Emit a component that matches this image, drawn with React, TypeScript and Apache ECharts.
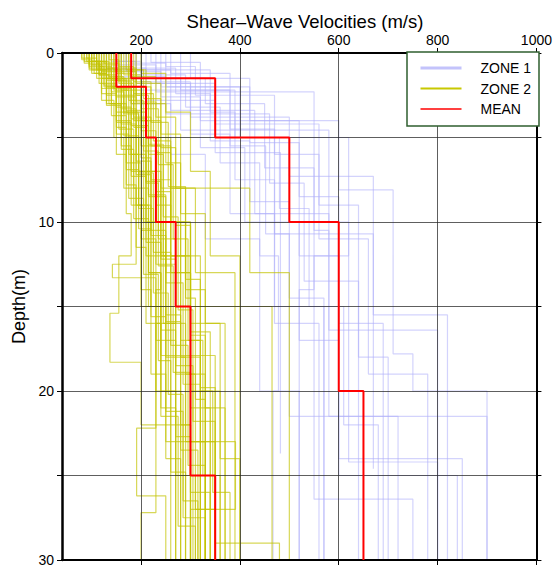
import React, { useEffect, useRef } from "react";
import * as echarts from "echarts";

// Velocity profiles: each entry is [layer top depth (m), Vs (m/s)]; the final entry holds the bottom depth.
const zone1Profiles: number[][][] = [
  [[0, 150], [0.7, 230], [2.3, 550], [10.5, 580], [21.5, 900], [30]],
  [[0, 170], [1.0, 260], [3.4, 430], [9.5, 580], [16.4, 800], [30]],
  [[0, 200], [1.7, 300], [3.8, 500], [7.3, 670], [15.5, 820], [30]],
  [[0, 220], [0.55, 320], [4.0, 600], [8.1, 710], [17.8, 750], [20, 900], [30]],
  [[0, 190], [1.5, 280], [4.56, 580], [10, 620], [24.2, 800], [30]],
  [[0, 240], [2.0, 400], [5.0, 620], [12, 550], [26.4, 750], [30]],
  [[0, 130], [0.9, 210], [2.8, 350], [5.9, 482], [23.7]],
  [[0, 260], [1.2, 380], [4.5, 470], [10.7, 670], [24.6]],
  [[0, 180], [0.6, 250], [2.0, 420], [5.3, 520], [12, 600], [24, 850], [30]],
  [[0, 160], [1.5, 330], [3.0, 450], [6.8, 550], [14, 520], [30]],
  [[0, 210], [1.0, 340], [3.5, 390], [7.5, 470], [15, 570], [30]],
  [[0, 150], [0.5, 200], [2.2, 380], [5.5, 452], [10.7, 500], [21.5, 720], [30]],
  [[0, 230], [1.8, 350], [4.2, 560], [9, 640], [18, 700], [30]],
  [[0, 300], [1.5, 420], [4.0, 520], [8.5, 600], [16, 690], [30]],
  [[0, 120], [1.0, 180], [3.0, 260], [6, 330], [11, 440], [20, 520], [30]],
  [[0, 190], [1.3, 290], [3.2, 360], [6.5, 440], [12, 478], [20, 467], [30]],
  [[0, 250], [0.8, 310], [2.5, 470], [6, 560], [11, 660], [19, 780], [30]],
  [[0, 170], [1.1, 240], [2.6, 320], [5.6, 410], [10, 520], [17, 600], [25, 840], [30]],
  [[0, 140], [0.5, 190], [1.8, 300], [4.8, 380], [9.5, 470], [16, 560], [30]],
  [[0, 280], [2.2, 390], [5, 480], [9.2, 540], [15, 610], [22, 680], [30]],
  [[0, 200], [0.9, 270], [2.4, 340], [5.2, 420], [8.8, 500], [14.5, 570], [30]],
  [[0, 160], [1.4, 250], [3.6, 460], [7.7, 530], [13.5, 640], [30]],
];

const zone2Profiles: number[][][] = [
  [[0, 80], [0.4, 100], [1.2, 130], [2.5, 160], [5, 190], [9, 220], [15, 260], [22, 300], [30]],
  [[0, 85], [0.6, 115], [1.8, 150], [4, 180], [7, 210], [12, 250], [18, 290], [30]],
  [[0, 90], [0.3, 110], [1, 140], [3, 170], [6.5, 200], [11, 230], [17, 270], [25, 310], [30]],
  [[0, 95], [0.8, 125], [2, 155], [4.5, 185], [8, 215], [13, 240], [20, 280], [30]],
  [[0, 100], [1, 130], [3, 150], [6, 170], [9.5, 180], [12, 155], [15.4, 137], [18.3, 200], [22, 260], [30]],
  [[0, 105], [0.5, 135], [1.5, 165], [3.5, 195], [7, 230], [12.5, 270], [19, 310], [27, 350], [30]],
  [[0, 110], [0.9, 145], [2.2, 175], [5, 205], [10, 245], [16, 290], [23, 330], [30]],
  [[0, 115], [1.3, 150], [3.2, 180], [6, 210], [10, 240], [14, 230], [22.2, 191], [26.2, 250], [30]],
  [[0, 120], [1, 160], [2.5, 200], [5.5, 240], [10, 280], [17, 320], [30]],
  [[0, 125], [0.7, 150], [2, 185], [4, 215], [8.5, 250], [13, 300], [21, 340], [30]],
  [[0, 130], [1.5, 170], [3.5, 210], [7, 240], [12, 280], [18, 320], [30]],
  [[0, 135], [0.4, 155], [1.6, 185], [3.8, 220], [7.5, 260], [13, 300], [20, 345], [26, 380], [30]],
  [[0, 140], [2, 190], [5, 230], [9, 260], [15, 300], [23, 350], [30]],
  [[0, 145], [1, 175], [2.8, 205], [5.8, 235], [11, 270], [16, 230], [27.2, 200], [30]],
  [[0, 150], [1.2, 180], [3, 215], [6, 245], [12, 290], [19, 330], [30]],
  [[0, 155], [0.8, 185], [2.4, 225], [5.2, 260], [10, 300], [16, 360], [24, 400], [30]],
  [[0, 160], [1.5, 200], [4, 240], [8, 290], [14, 330], [21, 370], [30]],
  [[0, 170], [1, 210], [3, 250], [6.5, 280], [12, 320], [20, 360], [30]],
  [[0, 175], [2, 220], [5.5, 260], [10, 300], [16.5, 340], [30]],
  [[0, 180], [1.4, 230], [3.8, 270], [8, 310], [13, 390], [30]],
  [[0, 190], [1.8, 240], [4.8, 280], [9.5, 330], [16, 370], [30]],
  [[0, 200], [1.2, 250], [3.5, 300], [7, 340], [12, 400], [30]],
  [[0, 85], [0.5, 120], [1.5, 150], [3.5, 175], [6, 195], [9, 215], [13, 240], [17.9, 350], [30]],
  [[0, 95], [1, 120], [2.8, 145], [5, 165], [8, 190], [12.5, 142], [13.3, 230], [20, 270], [30]],
  [[0, 110], [0.6, 130], [2, 160], [4.2, 190], [7.2, 220], [10.5, 200], [15, 250], [23, 391], [27, 300], [30]],
  [[0, 120], [1.1, 150], [2.6, 190], [5, 260], [8, 420], [13, 500], [30]],
  [[0, 130], [0.9, 160], [2.2, 200], [4.6, 230], [8.2, 260], [12, 300], [15, 465], [30]],
  [[0, 100], [0.7, 125], [1.9, 150], [4.4, 170], [7.8, 190], [11.5, 210], [16, 240], [21, 270], [30]],
  [[0, 90], [0.5, 115], [1.3, 135], [3, 160], [5.5, 180], [9, 200], [14, 220], [19, 250], [24, 280], [30]],
  [[0, 140], [1.6, 170], [3.4, 200], [6.2, 220], [10.5, 250], [15.5, 280], [22, 300], [30]],
  [[0, 150], [1.1, 190], [2.9, 230], [5.9, 260], [10, 290], [14.5, 310], [20.5, 330], [30]],
  [[0, 165], [1.3, 200], [3.3, 235], [6.6, 265], [11, 295], [17, 325], [25, 360], [30]],
  [[0, 115], [0.8, 140], [2.3, 165], [4.9, 195], [9.2, 225], [14.2, 255], [20.2, 285], [26.5, 315], [30]],
  [[0, 105], [1.2, 130], [3.1, 160], [5.7, 185], [9.8, 215], [15, 240], [21.5, 275], [28, 310], [30]],
  [[0, 125], [0.6, 155], [1.7, 180], [3.9, 210], [7.6, 240], [12.2, 270], [18.5, 305], [30]],
  [[0, 135], [1.4, 165], [3.6, 195], [7.1, 225], [11.8, 260], [17.3, 295], [24.4, 330], [30]],
  [[0, 145], [2.1, 180], [4.3, 215], [8.4, 250], [13.6, 285], [19.6, 320], [30]],
  [[0, 80], [0.3, 95], [0.9, 120], [2.1, 150], [4.1, 180], [7.3, 210], [11.2, 240], [16.4, 270], [22.7, 300], [30]],
  [[0, 100], [0.5, 130], [1.6, 160], [3.3, 190], [6.4, 220], [10.8, 250], [15.9, 280], [23.5, 315], [30]],
  [[0, 160], [0.9, 190], [2.5, 215], [5.4, 245], [9.7, 275], [15.2, 305], [21.8, 350], [29, 480], [30]],
  [[0, 185], [1.7, 220], [4.1, 255], [7.9, 290], [13.4, 320], [19.8, 350], [30]],
  [[0, 175], [1, 205], [2.7, 240], [5.6, 270], [10.2, 300], [16.7, 330], [30]],
  [[0, 155], [1.8, 185], [4.4, 210], [7.7, 235], [12.6, 265], [18.9, 300], [26, 340], [30]],
  [[0, 95], [0.7, 120], [2.4, 150], [4.8, 175], [8.6, 205], [13.1, 235], [18.2, 260], [24.8, 290], [30]],
  [[0, 110], [1.5, 140], [3.7, 170], [6.9, 195], [10.4, 220], [15.6, 250], [21.2, 285], [27.5, 330], [30]],
];

// Mean profiles of the two zones
const zone1MeanDepths = [0, 1.5, 5, 10, 20, 30];
const zone1MeanVs = [180, 350, 500, 600, 650];
const zone2MeanDepths = [0, 2, 5, 10, 15, 25, 30];
const zone2MeanVs = [150, 210, 230, 270, 300, 350];

const velocityTicks = [200, 400, 600, 800, 1000];
const depthLabels = [0, 10, 20, 30];

const ZONE1_COLOR = "rgba(175,175,250,0.55)";
const ZONE2_COLOR = "rgba(195,195,0,0.66)";
const MEAN_COLOR = "#ff0000";
const FONT = "'Liberation Sans', Arial, Helvetica, sans-serif";

// Turn layered profile into step-line corner points [velocity, depth]
function stepPath(profile: number[][]): number[][] {
  const pts: number[][] = [];
  for (let i = 0; i < profile.length - 1; i++) {
    const top = profile[i][0];
    const v = profile[i][1];
    const bottom = profile[i + 1][0];
    pts.push([v, top], [v, bottom]);
  }
  return pts;
}

function meanProfile(depths: number[], vs: number[]): number[][] {
  const p: number[][] = vs.map((v, i) => [depths[i], v]);
  p.push([depths[depths.length - 1]]);
  return p;
}

export default function App() {
  const ref = useRef<HTMLDivElement>(null);

  useEffect(() => {
    if (!ref.current) return;
    const chart = echarts.init(ref.current, null, { renderer: "svg" });

    const lineSeries = (name: string, profile: number[][], color: string, width: number, z: number) => ({
      type: "line",
      name,
      data: stepPath(profile),
      symbol: "none",
      showSymbol: false,
      silent: true,
      z,
      lineStyle: { color, width },
      itemStyle: { color },
    });

    const series: any[] = [
      ...zone1Profiles.map((p) => lineSeries("ZONE 1", p, ZONE1_COLOR, 1.2, 2)),
      ...zone2Profiles.map((p) => lineSeries("ZONE 2", p, ZONE2_COLOR, 1.2, 2)),
      lineSeries("MEAN", meanProfile(zone1MeanDepths, zone1MeanVs), MEAN_COLOR, 2, 6),
      lineSeries("MEAN", meanProfile(zone2MeanDepths, zone2MeanVs), MEAN_COLOR, 2, 6),
    ];

    const baseX = { type: "value", min: 40, max: 1000, z: 4 };
    const baseY = { type: "value", min: 0, max: 30, interval: 5, inverse: true, z: 4 };
    const hiddenMarker = { opacity: 0, borderWidth: 0 };

    chart.setOption({
      animation: false,
      backgroundColor: "#ffffff",
      textStyle: { fontFamily: FONT },
      title: {
        text: "Shear\u2013Wave Velocities (m/s)",
        left: 300,
        textAlign: "center",
        top: 7,
        textStyle: { fontSize: 18.5, fontWeight: "normal", color: "#000", fontFamily: FONT },
      },
      grid: { left: 62, right: 16, top: 53, bottom: 5, containLabel: false },
      legend: {
        orient: "vertical",
        left: 419,
        top: 61,
        z: 12,
        padding: 0,
        itemWidth: 41,
        itemHeight: 14,
        itemGap: 6.5,
        selectedMode: false,
        textStyle: { fontSize: 14, color: "#000", fontFamily: FONT, padding: [0, 0, 0, 14], lineHeight: 14 },
        data: [
          { name: "ZONE 1", itemStyle: hiddenMarker, lineStyle: { width: 3, color: "rgba(185,185,250,0.85)" } },
          { name: "ZONE 2", itemStyle: hiddenMarker, lineStyle: { width: 2, color: "#c8c800" } },
          { name: "MEAN", itemStyle: hiddenMarker, lineStyle: { width: 1.6, color: MEAN_COLOR } },
        ],
      },
      graphic: [
        {
          type: "rect",
          z: 11,
          shape: { x: 407, y: 52, width: 132, height: 74 },
          style: { fill: "#ffffff", stroke: "#2f5f2f", lineWidth: 1.5 },
        },
      ],
      xAxis: [
        {
          ...baseX,
          position: "top",
          axisLine: { show: true, onZero: false, lineStyle: { color: "#000", width: 2 } },
          axisTick: { show: true, customValues: velocityTicks, length: 5, lineStyle: { color: "#000", width: 1 } },
          axisLabel: {
            customValues: velocityTicks,
            fontSize: 14,
            color: "#000",
            margin: 6,
            fontFamily: FONT,
            formatter: (v: number) => String(v),
          },
          splitLine: { show: true, lineStyle: { color: "rgba(40,40,40,0.75)", width: 1 } },
        },
        {
          ...baseX,
          position: "bottom",
          axisLine: { show: true, onZero: false, lineStyle: { color: "#000", width: 2 } },
          axisTick: { show: true, customValues: velocityTicks, length: 5, lineStyle: { color: "#000", width: 1 } },
          axisLabel: { show: false },
          splitLine: { show: false },
        },
      ],
      yAxis: [
        {
          ...baseY,
          position: "left",
          name: "Depth(m)",
          nameLocation: "middle",
          nameRotate: 90,
          nameGap: 23,
          nameTextStyle: { fontSize: 18, color: "#000", fontFamily: FONT },
          axisLine: { show: true, onZero: false, lineStyle: { color: "#000", width: 2.5 } },
          axisTick: { show: true, length: 5, lineStyle: { color: "#000", width: 1 } },
          axisLabel: {
            fontSize: 14,
            color: "#000",
            margin: 8,
            fontFamily: FONT,
            formatter: (v: number) => (depthLabels.includes(v) ? String(v) : ""),
          },
          splitLine: { show: true, lineStyle: { color: "rgba(40,40,40,0.75)", width: 1 } },
        },
        {
          ...baseY,
          position: "right",
          axisLine: { show: true, onZero: false, lineStyle: { color: "#000", width: 2 } },
          axisTick: { show: true, length: 5, lineStyle: { color: "#000", width: 1 } },
          axisLabel: { show: false },
          splitLine: { show: false },
        },
      ],
      series,
    });

    return () => chart.dispose();
  }, []);

  return (
    <div
      ref={ref}
      style={{ position: "fixed", left: 0, top: 0, width: 555, height: 567, background: "#fff" }}
    />
  );
}
